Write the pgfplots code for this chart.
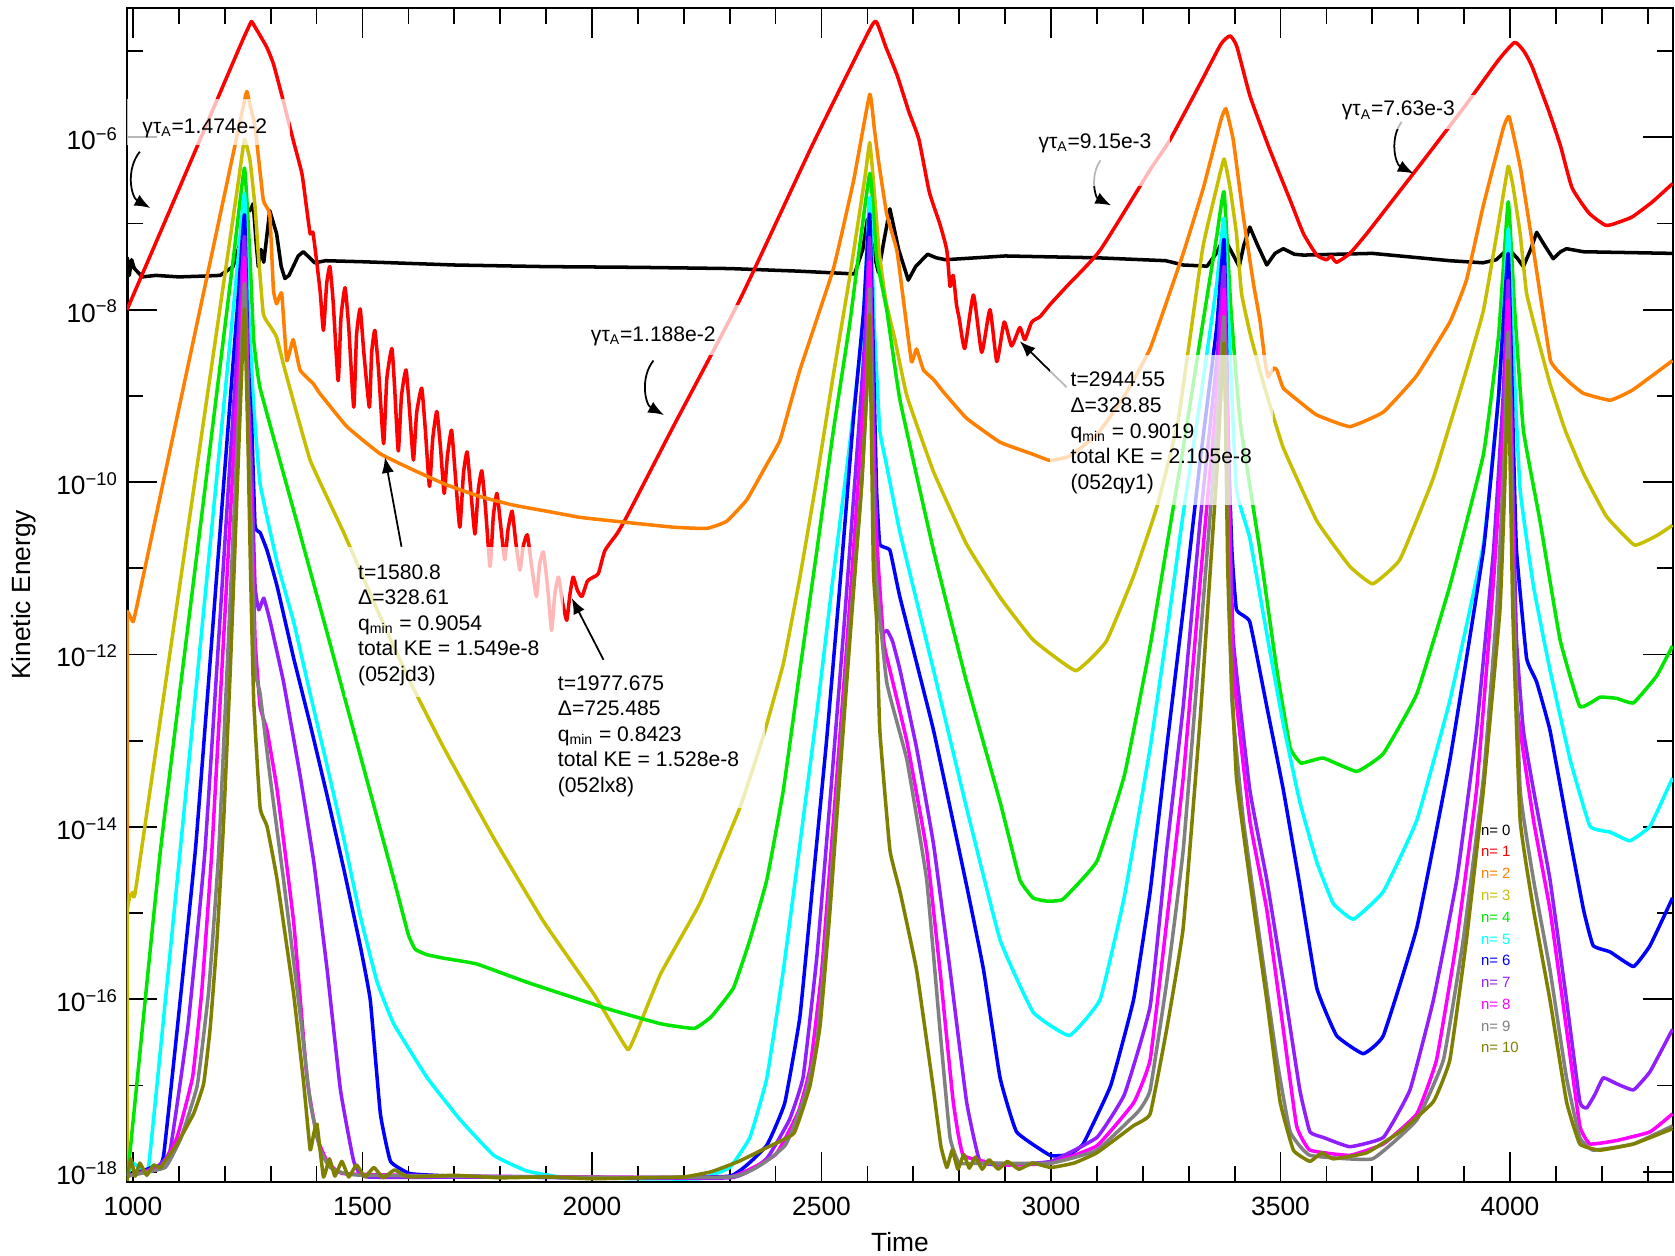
\documentclass[border=0pt]{standalone}
\usepackage{fontspec}
\setmainfont{Liberation Sans}
\usepackage{pgfplots}
\pgfplotsset{compat=1.18}
\usetikzlibrary{arrows.meta}

% one colour per toroidal mode number n
\definecolor{m0}{RGB}{0,0,0}
\definecolor{m1}{RGB}{255,0,0}
\definecolor{m2}{RGB}{255,128,0}
\definecolor{m3}{RGB}{200,190,0}
\definecolor{m4}{RGB}{0,230,0}
\definecolor{m5}{RGB}{0,255,255}
\definecolor{m6}{RGB}{0,0,255}
\definecolor{m7}{RGB}{145,30,255}
\definecolor{m8}{RGB}{255,0,255}
\definecolor{m9}{RGB}{128,128,128}
\definecolor{m10}{RGB}{128,128,0}

\newcommand{\annoline}[3]{\node[anchor=base west,inner sep=0pt,font=\fontsize{12}{14}\selectfont] at (axis cs:#1,#2) {#3};}
\newcommand{\legline}[3]{\node[anchor=west,inner sep=0pt,text=#3,font=\fontsize{8.5}{10}\selectfont] at (axis cs:3936,#1) {#2};}

\begin{document}
\begin{tikzpicture}
\begin{axis}[
  scale only axis, width=30.92cm, height=23.48cm,
  xmin=987, xmax=4355,
  ymode=log, ymin=7.6e-19, ymax=3.16e-5,
  xtick={1000,1500,2000,2500,3000,3500,4000},
  xticklabels={1000,1500,2000,2500,3000,3500,4000},
  minor xtick={1100,1200,1300,1400,1600,1700,1800,1900,2100,2200,2300,2400,2600,2700,2800,2900,3100,3200,3300,3400,3600,3700,3800,3900,4100,4200,4300},
  ytick={1e-18,1e-16,1e-14,1e-12,1e-10,1e-8,1e-6},
  yticklabels={10\textsuperscript{−18},10\textsuperscript{−16},10\textsuperscript{−14},10\textsuperscript{−12},10\textsuperscript{−10},10\textsuperscript{−8},10\textsuperscript{−6}},
  minor ytick={1e-17,1e-15,1e-13,1e-11,1e-9,1e-7,1e-5},
  major tick length=0.6cm, minor tick length=0.32cm,
  every tick/.style={black,line width=1pt},
  axis line style={line width=1.1pt},
  tick label style={font=\fontsize{15}{18}\selectfont},
  xticklabel style={yshift=-0.18cm},
  yticklabel style={xshift=-0.06cm,yshift=-0.03cm},
  xlabel={Time}, ylabel={Kinetic Energy},
  label style={font=\fontsize{15}{18}\selectfont},
  xlabel style={at={(axis description cs:0.5,-0.0511)},anchor=center},
  ylabel style={at={(axis description cs:-0.0669,0.5)},anchor=center},
  every axis plot/.append style={line width=2pt,line join=round},
  mode/.style={#1,smooth,tension=0.2},
]

% n = 0
\addplot[m0] coordinates {(987,5.0e-18)(987.5,4.0e-8)(992,2.5e-8)(997,3.8e-8)(1003,3.0e-8)(1010,2.75e-8)(1020,2.4e-8)(1050,2.5e-8)(1100,2.4e-8)(1150,2.45e-8)(1190,2.5e-8)(1218,3.16e-8)(1235,6.3e-8)(1244,1.55e-7)(1255,1.41e-7)(1262,1.7e-7)(1268,6.3e-8)(1273,3.16e-8)(1279,5.0e-8)(1285,3.55e-8)(1298,1.41e-7)(1313,7.6e-8)(1323,3.16e-8)(1331,2.3e-8)(1340,2.5e-8)(1349,3.16e-8)(1360,4.2e-8)(1371,4.7e-8)(1385,4.0e-8)(1396,3.5e-8)(1420,3.7e-8)(1500,3.6e-8)(1700,3.3e-8)(1900,3.16e-8)(2100,3.1e-8)(2300,3.0e-8)(2450,2.8e-8)(2572,2.6e-8)(2590,5.0e-8)(2600,1.12e-7)(2612,5.0e-8)(2624,2.7e-8)(2636,6.3e-8)(2649,1.48e-7)(2668,5.0e-8)(2689,2.2e-8)(2705,3.16e-8)(2731,4.4e-8)(2750,4.0e-8)(2770,3.8e-8)(2900,4.2e-8)(3100,4.0e-8)(3250,3.7e-8)(3288,3.3e-8)(3340,3.2e-8)(3360,4.5e-8)(3377,6.8e-8)(3395,4.5e-8)(3410,3.16e-8)(3420,5.6e-8)(3433,9.1e-8)(3450,5.6e-8)(3470,3.3e-8)(3488,4.5e-8)(3506,5.1e-8)(3530,4.4e-8)(3550,4.3e-8)(3700,4.5e-8)(3869,3.7e-8)(3941,3.5e-8)(3970,3.8e-8)(3996,5.1e-8)(4015,4.0e-8)(4029,3.16e-8)(4045,5.0e-8)(4058,7.9e-8)(4075,5.6e-8)(4094,3.9e-8)(4110,4.7e-8)(4123,5.1e-8)(4160,4.7e-8)(4354,4.5e-8)};

% n = 1
\addplot[m1,smooth,tension=0.3] coordinates {(987,1.0e-8)(1100,2.5e-7)(1200,4.4e-6)(1240,1.38e-5)(1250,1.8e-5)(1258,2.2e-5)(1266,1.9e-5)(1291,1.12e-5)(1306,7.1e-6)(1327,2.7e-6)(1349,9.3e-7)(1368,3.8e-7)(1378,1.55e-7)(1386,7.6e-8)(1392,7.9e-8)(1400,3.7e-8)(1408,1.58e-8)(1415,5.75e-9)(1422,2.0e-8)(1429,3.16e-8)(1436,1.26e-8)(1447,1.5e-9)(1453,7.9e-9)(1462,1.8e-8)(1470,6.3e-9)(1481,7.4e-10)(1487,5.0e-9)(1495,1.02e-8)(1503,3.16e-9)(1515,7.4e-10)(1520,3.16e-9)(1527,5.75e-9)(1535,2.0e-9)(1546,2.8e-10)(1553,1.58e-9)(1564,3.55e-9)(1570,1.26e-9)(1578,2.3e-10)(1585,1.0e-9)(1595,2.0e-9)(1603,6.3e-10)(1611,1.8e-10)(1618,6.3e-10)(1629,1.23e-9)(1637,4.0e-10)(1646,8.9e-11)(1653,3.16e-10)(1662,6.6e-10)(1670,2.5e-10)(1678,7.4e-11)(1685,2.0e-10)(1694,4.0e-10)(1702,1.26e-10)(1712,3.0e-11)(1720,1.26e-10)(1728,2.24e-10)(1736,7.9e-11)(1745,2.5e-11)(1752,7.9e-11)(1760,1.35e-10)(1768,5.0e-11)(1778,1.05e-11)(1785,4.0e-11)(1793,7.4e-11)(1801,3.16e-11)(1810,1.26e-11)(1817,2.8e-11)(1826,4.6e-11)(1834,2.0e-11)(1843,9.5e-12)(1850,1.78e-11)(1859,2.45e-11)(1868,1.12e-11)(1879,4.7e-12)(1886,1.12e-11)(1894,1.55e-11)(1903,6.3e-12)(1912,1.9e-12)(1919,5.0e-12)(1927,7.9e-12)(1936,4.0e-12)(1945,2.5e-12)(1952,5.0e-12)(1959,7.9e-12)(1968,5.6e-12)(1978,4.7e-12)(1990,7.1e-12)(2003,7.9e-12)(2014,8.7e-12)(2028,1.6e-11)(2054,2.5e-11)(2076,4.0e-11)(2177,4.4e-10)(2322,1.3e-8)(2479,7.9e-7)(2600,1.58e-5)(2619,2.2e-5)(2640,1.12e-5)(2665,5.2e-6)(2690,2.0e-6)(2712,9.5e-7)(2735,2.3e-7)(2758,9.8e-8)(2773,4.9e-8)(2780,1.86e-8)(2787,2.5e-8)(2794,1.15e-8)(2800,7.9e-9)(2812,3.55e-9)(2831,1.48e-8)(2849,3.2e-9)(2867,1.0e-8)(2882,2.5e-9)(2898,7.2e-9)(2914,3.8e-9)(2932,6.2e-9)(2943,4.5e-9)(2958,7.2e-9)(2976,8.3e-9)(2998,1.15e-8)(3034,1.86e-8)(3107,4.9e-8)(3216,4.2e-7)(3259,9.3e-7)(3325,4.2e-6)(3370,1.2e-5)(3390,1.5e-5)(3405,1.12e-5)(3434,2.95e-6)(3477,7.1e-7)(3521,1.86e-7)(3550,7.6e-8)(3579,4.3e-8)(3600,3.8e-8)(3610,4.2e-8)(3622,3.55e-8)(3651,4.5e-8)(3690,7.9e-8)(3800,4.5e-7)(3900,2.24e-6)(3975,7.9e-6)(4010,1.26e-5)(4030,1.0e-5)(4048,6.6e-6)(4084,2.04e-6)(4110,7.9e-7)(4135,2.6e-7)(4172,1.32e-7)(4209,9.5e-8)(4240,1.05e-7)(4267,1.2e-7)(4310,1.78e-7)(4354,2.9e-7)};

% n = 2
\addplot[mode=m2] coordinates {(987,7.9e-19)(987.2,1.5e-12)(987.5,3.16e-12)(1000,2.4e-12)(1008,3.55e-12)(1100,7.1e-10)(1200,2.24e-7)(1240,2.24e-6)(1248,3.4e-6)(1256,2.24e-6)(1266,1.32e-6)(1284,1.86e-7)(1298,1.29e-7)(1306,1.7e-8)(1313,1.17e-8)(1324,1.55e-8)(1335,2.57e-9)(1349,4.5e-9)(1364,2.0e-9)(1393,1.38e-9)(1407,1.07e-9)(1466,4.4e-10)(1538,2.14e-10)(1611,1.38e-10)(1683,9.3e-11)(1756,6.8e-11)(1829,5.4e-11)(1901,4.6e-11)(1974,3.9e-11)(2054,3.5e-11)(2177,3.0e-11)(2250,2.9e-11)(2293,3.5e-11)(2337,6.2e-11)(2380,1.58e-10)(2410,3.1e-10)(2453,2.0e-9)(2526,3.0e-8)(2570,3.16e-7)(2605,3.16e-6)(2615,1.26e-6)(2624,5.4e-7)(2642,1.29e-7)(2664,4.9e-8)(2678,1.35e-8)(2696,2.5e-9)(2707,3.5e-9)(2722,2.0e-9)(2744,1.55e-9)(2765,1.12e-9)(2816,5.5e-10)(2889,2.9e-10)(2961,2.1e-10)(2998,1.78e-10)(3040,2.0e-10)(3100,3.55e-10)(3160,1.0e-9)(3216,3.55e-9)(3288,4.5e-8)(3332,2.6e-7)(3370,1.58e-6)(3381,2.14e-6)(3397,9.3e-7)(3419,1.2e-7)(3441,2.0e-8)(3455,7.6e-9)(3466,2.57e-9)(3473,1.66e-9)(3485,2.1e-9)(3492,2.0e-9)(3506,1.23e-9)(3542,8.5e-10)(3579,6.0e-10)(3651,4.4e-10)(3724,6.5e-10)(3796,1.7e-9)(3869,7.2e-9)(3905,2.2e-8)(3941,1.55e-7)(3985,1.26e-6)(3998,1.74e-6)(4022,4.6e-7)(4051,4.9e-8)(4073,8.3e-9)(4088,2.57e-9)(4102,2.0e-9)(4131,1.41e-9)(4160,1.07e-9)(4218,8.9e-10)(4267,1.17e-9)(4354,2.57e-9)};

% n = 3
\addplot[mode=m3] coordinates {(987,7.9e-19)(987.8,8.0e-16)(988,1.12e-15)(993,1.58e-15)(1000,1.74e-15)(1006,1.9e-15)(1100,5.4e-12)(1200,2.5e-8)(1230,3.16e-7)(1243,9.5e-7)(1255,5.4e-7)(1266,1.55e-7)(1273,4.5e-8)(1284,8.9e-9)(1300,6.3e-9)(1313,4.8e-9)(1331,2.0e-9)(1386,1.8e-10)(1459,2.6e-11)(1532,3.3e-12)(1604,4.8e-13)(1677,8.3e-14)(1786,7.4e-15)(1895,7.9e-16)(2004,1.15e-16)(2050,4.5e-17)(2079,2.6e-17)(2100,4.5e-17)(2150,2.0e-16)(2235,1.3e-15)(2322,1.66e-14)(2373,1.12e-13)(2417,7.9e-13)(2453,7.9e-12)(2490,1.12e-10)(2526,1.78e-9)(2562,2.5e-8)(2595,3.55e-7)(2605,8.7e-7)(2613,3.16e-7)(2625,5.0e-8)(2640,1.26e-8)(2660,4.5e-9)(2686,1.0e-9)(2744,1.32e-10)(2816,1.9e-11)(2889,4.6e-12)(2961,1.48e-12)(3054,6.5e-13)(3120,1.41e-12)(3179,7.9e-12)(3230,5.0e-11)(3277,5.2e-10)(3330,5.0e-8)(3360,2.5e-7)(3377,5.6e-7)(3390,2.6e-7)(3404,7.6e-8)(3415,1.55e-8)(3434,5.2e-9)(3463,1.38e-9)(3506,2.5e-10)(3579,3.55e-11)(3651,1.05e-11)(3701,6.6e-12)(3760,1.26e-11)(3833,1.12e-10)(3905,2.0e-9)(3942,9.8e-9)(3975,1.0e-7)(3996,4.6e-7)(4007,2.6e-7)(4022,7.6e-8)(4036,1.55e-8)(4058,5.2e-9)(4087,1.38e-9)(4120,4.0e-10)(4160,1.26e-10)(4210,4.0e-11)(4271,1.86e-11)(4320,2.4e-11)(4354,3.16e-11)};

% n = 4
\addplot[mode=m4] coordinates {(987,7.9e-19)(994,1.78e-18)(1060,5.4e-15)(1150,4.2e-11)(1220,4.5e-8)(1243,4.4e-7)(1255,4.0e-8)(1263,4.5e-9)(1277,1.23e-9)(1350,4.7e-11)(1423,1.78e-12)(1495,6.8e-14)(1568,2.5e-15)(1600,5.6e-16)(1615,3.8e-16)(1640,3.3e-16)(1677,3.0e-16)(1749,2.57e-16)(1858,1.58e-16)(2033,7.8e-17)(2150,5.2e-17)(2223,4.6e-17)(2260,6.3e-17)(2308,1.35e-16)(2344,4.9e-16)(2381,2.45e-15)(2417,2.7e-14)(2453,6.6e-13)(2490,1.62e-11)(2526,4.0e-10)(2562,7.2e-9)(2605,3.8e-7)(2620,4.0e-8)(2642,1.0e-8)(2671,8.9e-10)(2744,1.62e-11)(2816,4.8e-13)(2889,1.95e-14)(2932,2.45e-15)(2961,1.5e-15)(2990,1.38e-15)(3026,1.45e-15)(3100,4.0e-15)(3160,4.0e-14)(3216,1.26e-12)(3252,1.78e-11)(3288,2.5e-10)(3325,4.5e-9)(3361,7.1e-8)(3377,2.34e-7)(3392,1.0e-8)(3412,5.0e-10)(3455,1.62e-11)(3492,6.6e-13)(3521,8.3e-14)(3545,5.5e-14)(3593,6.3e-14)(3666,4.4e-14)(3724,7.1e-14)(3797,3.5e-13)(3869,6.3e-12)(3942,2.1e-10)(3975,5.0e-9)(3996,1.78e-7)(4010,1.0e-8)(4029,4.0e-10)(4065,3.6e-11)(4109,1.48e-12)(4152,2.5e-13)(4196,3.2e-13)(4232,3.1e-13)(4269,2.75e-13)(4319,5.6e-13)(4354,1.26e-12)};

% n = 5
\addplot[mode=m5] coordinates {(987,8.9e-19)(1000,1.26e-18)(1020,1.05e-18)(1035,1.26e-18)(1103,5.4e-15)(1180,8.3e-11)(1225,2.3e-8)(1243,2.24e-7)(1252,1.0e-8)(1263,7.6e-10)(1277,9.5e-11)(1314,1.17e-11)(1350,2.4e-12)(1386,3.5e-13)(1423,5.1e-14)(1459,7.4e-15)(1495,9.3e-16)(1532,1.58e-16)(1568,5.2e-17)(1641,1.23e-17)(1713,4.0e-18)(1786,1.55e-18)(1858,1.02e-18)(1931,8.7e-19)(2100,8.3e-19)(2235,8.3e-19)(2300,1.12e-18)(2344,2.5e-18)(2381,1.23e-17)(2417,2.2e-16)(2453,6.3e-15)(2490,2.14e-13)(2526,8.5e-12)(2562,2.9e-10)(2590,6.3e-9)(2605,2.0e-7)(2615,6.3e-9)(2627,4.0e-10)(2642,1.55e-10)(2671,2.6e-11)(2744,6.6e-13)(2816,1.66e-14)(2889,4.9e-16)(2961,7.1e-17)(3040,3.8e-17)(3107,1.0e-16)(3160,1.58e-15)(3216,8.3e-14)(3252,1.74e-12)(3288,4.3e-11)(3325,8.9e-10)(3361,2.0e-8)(3377,1.15e-7)(3390,3.16e-9)(3404,8.1e-11)(3433,2.24e-11)(3470,1.74e-12)(3506,1.55e-13)(3542,1.95e-14)(3579,3.9e-15)(3615,1.29e-15)(3659,8.5e-16)(3724,1.78e-15)(3797,1.2e-14)(3869,2.95e-13)(3942,1.9e-11)(3975,1.0e-9)(3996,8.7e-8)(4008,2.5e-9)(4022,8.1e-11)(4051,6.2e-12)(4087,6.6e-13)(4131,6.0e-14)(4174,1.02e-14)(4218,8.7e-15)(4261,6.9e-15)(4305,1.02e-14)(4354,3.7e-14)};

% n = 6
\addplot[mode=m6] coordinates {(987,8.9e-19)(1040,1.12e-18)(1067,1.58e-18)(1136,5.4e-15)(1200,1.38e-10)(1230,1.58e-8)(1243,1.26e-7)(1251,2.5e-9)(1259,4.0e-10)(1266,3.1e-11)(1277,2.6e-11)(1292,1.62e-11)(1314,6.2e-12)(1350,9.1e-13)(1386,1.55e-13)(1423,2.3e-14)(1459,3.3e-15)(1495,4.2e-16)(1517,9.8e-17)(1539,4.7e-18)(1561,1.32e-18)(1604,9.5e-19)(1700,8.9e-19)(2000,8.5e-19)(2300,8.9e-19)(2380,2.0e-18)(2420,6.3e-18)(2453,6.3e-17)(2482,2.5e-15)(2511,1.0e-13)(2540,6.3e-12)(2569,5.0e-10)(2592,1.0e-8)(2605,1.29e-7)(2615,1.0e-9)(2620,7.9e-11)(2627,1.9e-11)(2649,1.62e-11)(2671,4.6e-12)(2744,1.32e-13)(2816,2.1e-15)(2853,2.2e-16)(2889,1.23e-17)(2925,2.9e-18)(2998,1.55e-18)(3038,1.58e-18)(3070,2.1e-18)(3130,1.0e-17)(3180,1.0e-16)(3216,1.78e-15)(3252,8.3e-14)(3288,3.3e-12)(3325,1.78e-10)(3361,6.3e-9)(3377,6.5e-8)(3386,3.16e-10)(3394,1.62e-11)(3404,3.3e-12)(3433,2.4e-12)(3470,2.5e-13)(3506,2.7e-14)(3542,2.1e-15)(3579,1.35e-16)(3622,3.8e-17)(3680,2.34e-17)(3724,3.8e-17)(3797,6.8e-16)(3869,6.0e-14)(3942,1.62e-11)(3975,1.0e-9)(3996,4.5e-8)(4007,3.16e-10)(4014,1.62e-11)(4036,9.1e-13)(4058,4.8e-13)(4087,1.32e-13)(4123,1.2e-14)(4160,1.1e-15)(4181,4.2e-16)(4218,3.55e-16)(4269,2.4e-16)(4305,4.2e-16)(4354,1.5e-15)};

% n = 7
\addplot[mode=m7] coordinates {(987,8.9e-19)(1050,1.12e-18)(1081,1.78e-18)(1120,5.0e-17)(1157,5.4e-15)(1210,1.32e-10)(1232,8.7e-9)(1243,7.1e-8)(1252,1.0e-9)(1259,1.12e-10)(1266,6.2e-12)(1274,3.3e-12)(1285,4.5e-12)(1299,2.4e-12)(1328,4.8e-13)(1365,3.7e-14)(1394,3.9e-15)(1423,2.2e-16)(1452,8.9e-18)(1481,1.32e-18)(1510,8.7e-19)(1800,8.7e-19)(2300,8.5e-19)(2380,1.41e-18)(2430,4.0e-18)(2460,1.26e-17)(2490,3.16e-16)(2520,2.5e-14)(2550,2.5e-12)(2578,2.5e-10)(2595,5.0e-9)(2605,6.9e-8)(2615,2.5e-10)(2625,4.0e-12)(2631,1.78e-12)(2643,1.9e-12)(2655,1.41e-12)(2671,6.6e-13)(2707,8.3e-14)(2744,6.3e-15)(2780,2.2e-16)(2816,6.5e-18)(2845,1.32e-18)(2900,1.2e-18)(3000,1.32e-18)(3100,2.5e-18)(3160,7.9e-18)(3216,8.3e-17)(3252,5.4e-15)(3288,2.5e-13)(3325,3.6e-11)(3361,2.5e-9)(3377,3.16e-8)(3388,1.0e-10)(3397,1.48e-12)(3433,2.7e-14)(3470,2.45e-15)(3506,1.58e-16)(3542,8.9e-18)(3564,2.9e-18)(3593,2.5e-18)(3651,1.95e-18)(3724,2.5e-18)(3782,8.9e-18)(3833,9.8e-17)(3884,2.45e-15)(3927,1.32e-13)(3964,1.62e-11)(3985,1.0e-9)(3996,2.2e-8)(4006,1.0e-10)(4014,1.48e-12)(4029,1.32e-13)(4051,2.7e-14)(4087,2.45e-15)(4123,9.8e-17)(4152,6.5e-18)(4167,5.5e-18)(4185,7.9e-18)(4203,1.23e-17)(4232,1.05e-17)(4269,8.9e-18)(4305,1.45e-17)(4354,4.5e-17)};

% n = 8
\addplot[mode=m8] coordinates {(987,8.9e-19)(1060,1.12e-18)(1096,2.5e-18)(1130,1.26e-17)(1150,1.26e-16)(1172,5.4e-15)(1215,7.8e-11)(1234,5.4e-9)(1243,4.0e-8)(1252,5.0e-10)(1259,3.6e-11)(1266,1.48e-12)(1277,2.5e-13)(1292,1.32e-13)(1314,2.7e-14)(1350,7.9e-16)(1379,1.23e-17)(1401,2.5e-18)(1423,1.32e-18)(1459,9.5e-19)(1700,8.9e-19)(2000,8.7e-19)(2300,8.7e-19)(2400,1.58e-18)(2450,5.0e-18)(2475,1.58e-17)(2500,2.0e-16)(2525,1.0e-14)(2555,1.26e-12)(2580,1.0e-10)(2596,2.5e-9)(2605,3.55e-8)(2615,6.3e-11)(2635,1.48e-12)(2649,6.6e-13)(2686,9.8e-14)(2729,5.4e-15)(2758,2.2e-16)(2787,6.5e-18)(2809,1.55e-18)(2900,1.2e-18)(3000,1.26e-18)(3100,2.0e-18)(3180,6.3e-18)(3216,2.0e-17)(3252,7.9e-16)(3288,3.7e-14)(3325,7.2e-12)(3361,1.0e-9)(3377,1.7e-8)(3388,4.0e-11)(3397,6.6e-13)(3433,1.2e-14)(3470,1.1e-15)(3506,4.5e-17)(3535,3.4e-18)(3564,1.78e-18)(3651,1.55e-18)(3724,2.1e-18)(3797,4.7e-18)(3840,2.0e-17)(3884,4.9e-16)(3927,2.7e-14)(3964,7.2e-12)(3986,5.0e-10)(3996,1.29e-8)(4006,3.16e-11)(4014,2.95e-13)(4051,1.2e-14)(4087,1.1e-15)(4123,4.5e-17)(4152,3.4e-18)(4174,2.1e-18)(4232,2.3e-18)(4305,2.9e-18)(4354,4.7e-18)};

% n = 9
\addplot[mode=m9] coordinates {(987,8.9e-19)(1070,1.12e-18)(1105,2.5e-18)(1140,1.0e-17)(1165,1.26e-16)(1187,5.4e-15)(1220,4.0e-11)(1236,3.0e-9)(1243,2.0e-8)(1252,2.5e-10)(1259,1.62e-11)(1266,6.6e-13)(1277,3.5e-13)(1299,3.7e-14)(1328,2.45e-15)(1365,6.2e-17)(1386,6.5e-18)(1408,1.8e-18)(1430,1.12e-18)(1500,9.1e-19)(2300,8.7e-19)(2420,2.0e-18)(2465,7.9e-18)(2490,3.16e-17)(2512,6.3e-16)(2535,2.5e-14)(2560,1.58e-12)(2585,6.3e-11)(2598,1.0e-9)(2605,1.74e-8)(2615,1.58e-11)(2642,4.8e-13)(2686,6.0e-14)(2729,2.45e-15)(2758,4.5e-17)(2780,2.5e-18)(2800,1.26e-18)(2850,1.26e-18)(3000,1.26e-18)(3100,1.78e-18)(3190,5.0e-18)(3216,8.9e-18)(3252,1.58e-16)(3288,5.4e-15)(3325,1.48e-12)(3361,4.0e-10)(3377,8.3e-9)(3386,1.58e-11)(3394,2.95e-13)(3419,1.2e-14)(3455,4.9e-16)(3492,2.0e-17)(3521,2.9e-18)(3564,1.55e-18)(3700,1.41e-18)(3797,4.0e-18)(3855,2.0e-17)(3898,4.9e-16)(3942,3.7e-14)(3971,3.3e-12)(3988,2.5e-10)(3996,5.5e-9)(4006,1.0e-11)(4022,2.7e-14)(4051,2.45e-15)(4087,2.2e-16)(4123,1.23e-17)(4152,2.5e-18)(4181,1.78e-18)(4269,2.1e-18)(4354,3.4e-18)};

% n = 10
\addplot[mode=m10] coordinates {(987,7.9e-19)(995,1.41e-18)(1005,8.9e-19)(1015,1.26e-18)(1030,9.1e-19)(1045,1.2e-18)(1060,1.12e-18)(1096,2.1e-18)(1132,4.7e-18)(1154,1.05e-17)(1168,4.5e-17)(1183,4.9e-16)(1197,1.02e-14)(1212,6.6e-13)(1226,5.9e-11)(1237,2.0e-9)(1243,1.02e-8)(1250,4.0e-10)(1256,1.0e-11)(1263,2.95e-13)(1277,1.66e-14)(1292,1.02e-14)(1314,2.45e-15)(1350,1.15e-16)(1372,1.05e-17)(1386,1.8e-18)(1394,2.8e-18)(1401,3.55e-18)(1415,8.7e-19)(1428,1.41e-18)(1440,8.9e-19)(1455,1.32e-18)(1470,8.7e-19)(1487,1.2e-18)(1505,8.7e-19)(1525,1.12e-18)(1545,8.5e-19)(1570,1.05e-18)(1600,8.7e-19)(1700,9.1e-19)(1800,8.5e-19)(1900,8.7e-19)(2000,8.3e-19)(2100,8.5e-19)(2200,8.7e-19)(2260,1.0e-18)(2320,1.32e-18)(2380,1.9e-18)(2440,2.8e-18)(2475,1.0e-17)(2497,5.0e-17)(2518,1.0e-15)(2540,4.0e-14)(2565,2.5e-12)(2588,1.0e-10)(2600,1.58e-9)(2605,8.5e-9)(2613,1.0e-11)(2620,2.5e-12)(2627,1.32e-13)(2649,5.4e-15)(2671,1.78e-15)(2707,2.2e-16)(2744,8.9e-18)(2760,2.0e-18)(2773,1.12e-18)(2785,1.78e-18)(2797,1.07e-18)(2810,1.58e-18)(2822,1.1e-18)(2835,1.48e-18)(2850,1.07e-18)(2865,1.38e-18)(2885,1.07e-18)(2905,1.32e-18)(2930,1.07e-18)(2960,1.26e-18)(3000,1.12e-18)(3050,1.26e-18)(3100,1.66e-18)(3179,3.4e-18)(3216,4.7e-18)(3252,4.5e-17)(3288,6.8e-16)(3325,1.82e-13)(3361,1.26e-10)(3377,4.1e-9)(3385,1.0e-11)(3390,1.48e-12)(3404,3.7e-14)(3433,2.45e-15)(3470,9.8e-17)(3499,6.5e-18)(3528,1.78e-18)(3564,1.32e-18)(3590,1.66e-18)(3615,1.41e-18)(3688,1.66e-18)(3760,2.9e-18)(3833,6.5e-18)(3869,2.0e-17)(3905,4.9e-16)(3942,2.7e-14)(3978,3.3e-12)(3990,1.58e-10)(3996,2.57e-9)(4006,3.16e-12)(4022,1.2e-14)(4051,1.1e-15)(4087,9.8e-17)(4123,6.5e-18)(4152,2.1e-18)(4196,1.78e-18)(4269,2.1e-18)(4354,3.16e-18)};

% arrows to the marked points
\draw[-{Latex[length=9pt,width=7pt]},line width=1pt] (axis cs:1015,6.8e-7) to[bend right=50] (axis cs:1038,1.51e-7);
\draw[-{Latex[length=9pt,width=7pt]},line width=1pt] (axis cs:2134,2.57e-9) to[bend right=50] (axis cs:2157,6.0e-10);
\draw[-{Latex[length=9pt,width=7pt]},line width=1pt] (axis cs:3108,5.4e-7) to[bend right=50] (axis cs:3131,1.62e-7);
\draw[-{Latex[length=9pt,width=7pt]},line width=1pt] (axis cs:3764,1.51e-6) to[bend right=50] (axis cs:3790,3.8e-7);
\draw[-{Latex[length=9pt,width=7pt]},line width=1pt] (axis cs:1585,1.78e-11) -- (axis cs:1549,1.95e-10);
\draw[-{Latex[length=9pt,width=7pt]},line width=1pt] (axis cs:2025,8.7e-13) -- (axis cs:1956,4.5e-12);
\draw[-{Latex[length=9pt,width=7pt]},line width=1pt] (axis cs:3034,1.26e-9) -- (axis cs:2932,4.3e-9);

% translucent backgrounds behind the labels
\fill[white,fill opacity=0.72] (axis cs:987,2.8e-6) rectangle (axis cs:1342,8.1e-7);
\fill[white,fill opacity=0.72] (axis cs:1985,1.12e-8) rectangle (axis cs:2327,2.95e-9);
\fill[white,fill opacity=0.72] (axis cs:1462,1.78e-11) rectangle (axis cs:1937,3.2e-13);
\fill[white,fill opacity=0.72] (axis cs:1915,8.1e-13) rectangle (axis cs:2377,1.66e-14);
\fill[white,fill opacity=0.72] (axis cs:2998,2.95e-9) rectangle (axis cs:3484,5.4e-11);
\fill[white,fill opacity=0.72] (axis cs:2965,1.48e-6) rectangle (axis cs:3259,2.75e-7);
\fill[white,fill opacity=0.72] (axis cs:3619,3.1e-6) rectangle (axis cs:3924,1.26e-6);

% growth-rate labels
\annoline{1020}{1.12e-6}{γτ\textsubscript{A}=1.474e-2}
\annoline{1997}{4.3e-9}{γτ\textsubscript{A}=1.188e-2}
\annoline{2972}{7.5e-7}{γτ\textsubscript{A}=9.15e-3}
\annoline{3633}{1.77e-6}{γτ\textsubscript{A}=7.63e-3}

% run summaries
\annoline{1490}{7.5e-12}{t=1580.8}
\annoline{1490}{3.8e-12}{Δ=328.61}
\annoline{1490}{1.91e-12}{q\textsubscript{min} = 0.9054}
\annoline{1490}{9.7e-13}{total KE = 1.549e-8}
\annoline{1490}{4.9e-13}{(052jd3)}

\annoline{1925}{3.86e-13}{t=1977.675}
\annoline{1925}{1.95e-13}{Δ=725.485}
\annoline{1925}{9.8e-14}{q\textsubscript{min} = 0.8423}
\annoline{1925}{4.97e-14}{total KE = 1.528e-8}
\annoline{1925}{2.5e-14}{(052lx8)}

\annoline{3042}{1.27e-9}{t=2944.55}
\annoline{3042}{6.4e-10}{Δ=328.85}
\annoline{3042}{3.24e-10}{q\textsubscript{min} = 0.9019}
\annoline{3042}{1.64e-10}{total KE = 2.105e-8}
\annoline{3042}{8.3e-11}{(052qy1)}

% mode key
\legline{9.2e-15}{n= 0}{m0}
\legline{5.15e-15}{n= 1}{m1}
\legline{2.88e-15}{n= 2}{m2}
\legline{1.61e-15}{n= 3}{m3}
\legline{9.0e-16}{n= 4}{m4}
\legline{5.0e-16}{n= 5}{m5}
\legline{2.8e-16}{n= 6}{m6}
\legline{1.57e-16}{n= 7}{m7}
\legline{8.8e-17}{n= 8}{m8}
\legline{4.9e-17}{n= 9}{m9}
\legline{2.74e-17}{n= 10}{m10}

\end{axis}
\pgfresetboundingbox
\path[use as bounding box] (-2.54cm,-1.48cm) rectangle (30.96cm,23.64cm);
\end{tikzpicture}
\end{document}
